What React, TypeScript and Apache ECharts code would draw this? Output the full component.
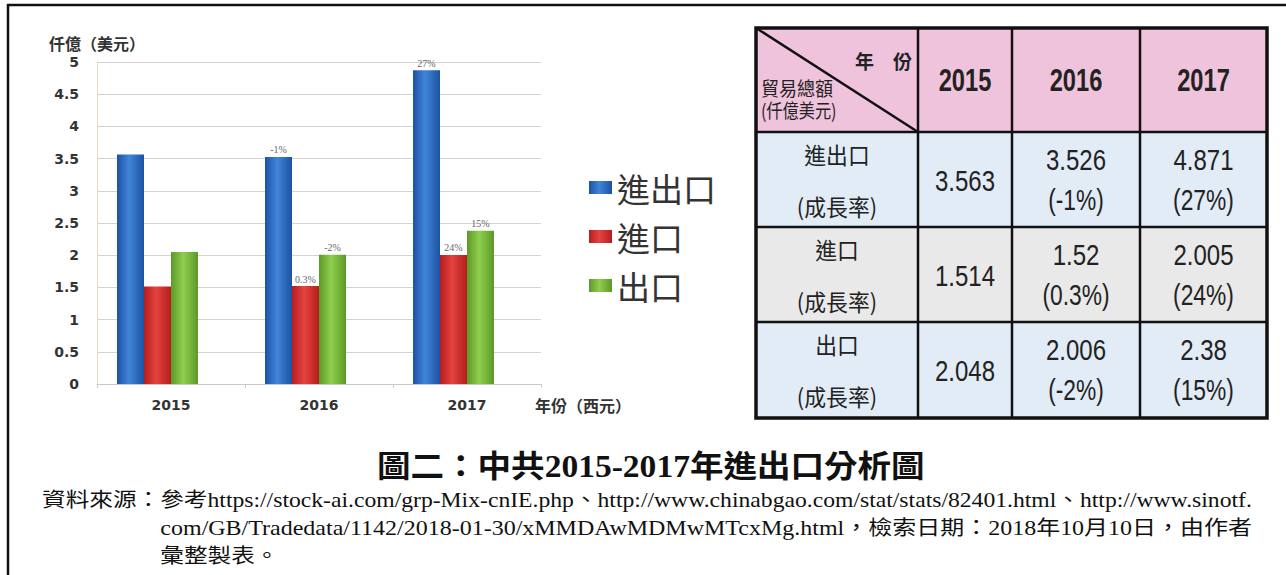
import React, { useEffect, useRef } from "react";
import * as echarts from "echarts";

// ---------- data ----------
const categories = ["2015", "2016", "2017"];
const seriesNames = ["進出口", "進口", "出口"];
const totalValues = [3.563, 3.526, 4.871];
const importValues = [1.514, 1.52, 2.005];
const exportValues = [2.048, 2.006, 2.38];
const totalGrowth = ["", "-1%", "27%"];
const importGrowth = ["", "0.3%", "24%"];
const exportGrowth = ["", "-2%", "15%"];
const yMin = 0;
const yMax = 5;
const yInterval = 0.5;
const yAxisTitle = "仟億（美元）";
const xAxisTitle = "年份（西元）";
const tableCornerTop = "年　份";
const tableCornerBottom = ["貿易總額", "(仟億美元)"];
const rowSubLabel = "(成長率)";
const titleText = "圖二：中共2015-2017年進出口分析圖";
const sourceLines = [
  "資料來源：參考https://stock-ai.com/grp-Mix-cnIE.php、http://www.chinabgao.com/stat/stats/82401.html、http://www.sinotf.",
  "com/GB/Tradedata/1142/2018-01-30/xMMDAwMDMwMTcxMg.html，檢索日期：2018年10月10日，由作者",
  "彙整製表。",
];
const sourceLabel = "資料來源：";

const seriesValues = [totalValues, importValues, exportValues];
const seriesGrowth = [totalGrowth, importGrowth, exportGrowth];

// ---------- styles / layout ----------
const barColors = [
  ["#1d52a2", "#4085d9"],
  ["#b51d1f", "#e4433f"],
  ["#5b9928", "#90ce4d"],
];
const rowBgs = ["#e2ecf7", "#e9e9e9", "#e2ecf7"];
const headerBg = "#f0c3dc";
const colX = [756, 918, 1012, 1140, 1267];
const rowY = [28, 132, 227, 322, 418];
const SANS = "'Liberation Sans', 'Noto Sans CJK TC', sans-serif";
const CJK = "'Noto Sans CJK TC', sans-serif";
const SERIF = "'Liberation Serif', 'Noto Sans CJK TC', serif";
const SRC_FONT = `20px ${SERIF}`;
const TITLE_FONT = `bold 31px ${SERIF}`;

let measureCtx: CanvasRenderingContext2D | null = null;
function measure(text: string, font: string): number {
  if (!measureCtx) measureCtx = document.createElement("canvas").getContext("2d");
  if (!measureCtx) return text.length * 10;
  measureCtx.font = font;
  return measureCtx.measureText(text).width;
}

function grad(c: string[]) {
  return new echarts.graphic.LinearGradient(0, 0, 1, 0, [
    { offset: 0, color: c[0] },
    { offset: 0.45, color: c[1] },
    { offset: 1, color: c[0] },
  ]);
}

function txt(text: string, x: number, y: number, font: string, align = "center", scaleX = 1, fill = "#222"): any {
  return { type: "text", x, y, scaleX, style: { text, x: 0, y: 0, align, verticalAlign: "middle", font, fill } };
}

function buildTable(): any[] {
  const els: any[] = [];
  els.push({ type: "rect", shape: { x: colX[0], y: rowY[0], width: colX[4] - colX[0], height: rowY[1] - rowY[0] }, style: { fill: headerBg } });
  for (let r = 0; r < 3; r++) {
    els.push({ type: "rect", shape: { x: colX[0], y: rowY[r + 1], width: colX[4] - colX[0], height: rowY[r + 2] - rowY[r + 1] }, style: { fill: rowBgs[r] } });
  }
  els.push({ type: "line", shape: { x1: colX[0], y1: rowY[0], x2: colX[1], y2: rowY[1] }, style: { stroke: "#111", lineWidth: 2.5 } });
  els.push(txt(tableCornerTop, 912, 60, `bold 19px ${CJK}`, "right"));
  els.push(txt(tableCornerBottom[0], 761, 88, `19px ${CJK}`, "left", 0.95));
  els.push(txt(tableCornerBottom[1], 761, 110, `19px ${CJK}`, "left", 0.85));
  categories.forEach((c, i) => {
    els.push(txt(c, (colX[i + 1] + colX[i + 2]) / 2, 80, `bold 32px ${SANS}`, "center", 0.74));
  });
  seriesNames.forEach((name, r) => {
    const cy = (rowY[r + 1] + rowY[r + 2]) / 2;
    const cx0 = (colX[0] + colX[1]) / 2;
    els.push(txt(name, cx0, cy - 26, `23px ${CJK}`, "center", 0.95));
    els.push(txt(rowSubLabel, cx0, cy + 26, `23px ${CJK}`, "center", 0.95));
    categories.forEach((c, i) => {
      const cx = (colX[i + 1] + colX[i + 2]) / 2;
      const v = String(seriesValues[r][i]);
      const g = seriesGrowth[r][i];
      if (g) {
        els.push(txt(v, cx, cy - 20, `30px ${SANS}`, "center", 0.8));
        els.push(txt(`(${g})`, cx, cy + 20, `30px ${SANS}`, "center", 0.76));
      } else {
        els.push(txt(v, cx, cy + 1, `30px ${SANS}`, "center", 0.8));
      }
    });
  });
  for (let i = 1; i < 4; i++) {
    els.push({ type: "line", shape: { x1: colX[i], y1: rowY[0], x2: colX[i], y2: rowY[4] }, style: { stroke: "#111", lineWidth: 2.5 } });
    els.push({ type: "line", shape: { x1: colX[0], y1: rowY[i], x2: colX[4], y2: rowY[i] }, style: { stroke: "#111", lineWidth: 2.5 } });
  }
  els.push({ type: "rect", shape: { x: colX[0], y: rowY[0], width: colX[4] - colX[0], height: rowY[4] - rowY[0] }, style: { fill: "none", stroke: "#111", lineWidth: 3.5 } });
  return els;
}

function buildTexts(): any[] {
  const els: any[] = [];
  const tW = measure(titleText, TITLE_FONT);
  els.push(txt(titleText, 377, 466, TITLE_FONT, "left", 548 / tW, "#111"));
  const s1 = 42;
  const end = 1253;
  const w1 = measure(sourceLines[0], SRC_FONT);
  const k1 = (end - s1) / w1;
  const indent = s1 + measure(sourceLabel, SRC_FONT) * k1;
  const w2 = measure(sourceLines[1], SRC_FONT);
  const k2 = (end - indent) / w2;
  els.push(txt(sourceLines[0], s1, 500, SRC_FONT, "left", k1, "#111"));
  els.push(txt(sourceLines[1], indent, 528, SRC_FONT, "left", k2, "#111"));
  els.push(txt(sourceLines[2], indent, 556, SRC_FONT, "left", k1, "#111"));
  return els;
}

function buildOption(): any {
  const series: any[] = seriesNames.map((name, s) => ({
    name,
    type: "bar",
    barWidth: 27,
    barGap: "0%",
    itemStyle: { color: grad(barColors[s]) },
    data: seriesValues[s].map((v, i) => ({
      value: v,
      label: {
        show: !!seriesGrowth[s][i],
        formatter: seriesGrowth[s][i],
        position: "top",
        distance: 2,
        fontFamily: SERIF,
        fontSize: 10,
        color: "#666",
      },
    })),
  }));
  // empty slot series keeps the bar group offset as in the original Excel chart
  series.push({ name: "", type: "bar", barWidth: 27, barGap: "0%", data: categories.map(() => null) });

  return {
    animation: false,
    backgroundColor: "#fff",
    grid: { left: 97, top: 62, width: 444, height: 322, containLabel: false },
    legend: {
      data: seriesNames,
      orient: "vertical",
      left: 584,
      top: 166,
      itemWidth: 23,
      itemHeight: 13,
      itemGap: 16,
      icon: "rect",
      textStyle: { fontSize: 33, fontFamily: CJK, color: "#333" },
    },
    xAxis: {
      type: "category",
      data: categories,
      name: xAxisTitle,
      nameLocation: "end",
      nameGap: -6,
      nameTextStyle: { fontFamily: CJK, fontWeight: "bold", fontSize: 16, color: "#333", verticalAlign: "top", padding: [13, 0, 0, 0] },
      axisLine: { lineStyle: { color: "#c8c8c8", width: 1 } },
      axisTick: { show: true, length: 4, lineStyle: { color: "#ccc" } },
      axisLabel: { fontFamily: "'DejaVu Sans', sans-serif", fontWeight: "bold", fontSize: 14, color: "#333", margin: 14 },
    },
    yAxis: {
      type: "value",
      min: yMin,
      max: yMax,
      interval: yInterval,
      name: yAxisTitle,
      nameLocation: "end",
      nameGap: 11,
      nameTextStyle: { fontFamily: CJK, fontWeight: "bold", fontSize: 16, color: "#333" },
      axisLine: { show: true, lineStyle: { color: "#ead9c8", width: 1 } },
      axisTick: { show: false },
      splitLine: { lineStyle: { color: "#d3d3d3", width: 1.2 } },
      axisLabel: { fontFamily: "'DejaVu Sans', sans-serif", fontWeight: "bold", fontSize: 14, color: "#333", margin: 18 },
    },
    series,
    graphic: [
      { type: "line", shape: { x1: 7, y1: 5, x2: 1286, y2: 5 }, style: { stroke: "#111", lineWidth: 2.5 } },
      { type: "line", shape: { x1: 8, y1: 4, x2: 8, y2: 575 }, style: { stroke: "#111", lineWidth: 2.5 } },
      ...buildTable(),
      ...buildTexts(),
    ],
  };
}

export default function App() {
  const ref = useRef<HTMLDivElement>(null);
  useEffect(() => {
    if (!ref.current) return;
    const chart = echarts.init(ref.current, null, { renderer: "svg" });
    chart.setOption(buildOption());
    return () => chart.dispose();
  }, []);
  return (
    <div
      ref={ref}
      style={{ position: "absolute", left: 0, top: 0, width: 1286, height: 575, background: "#fff" }}
    />
  );
}
